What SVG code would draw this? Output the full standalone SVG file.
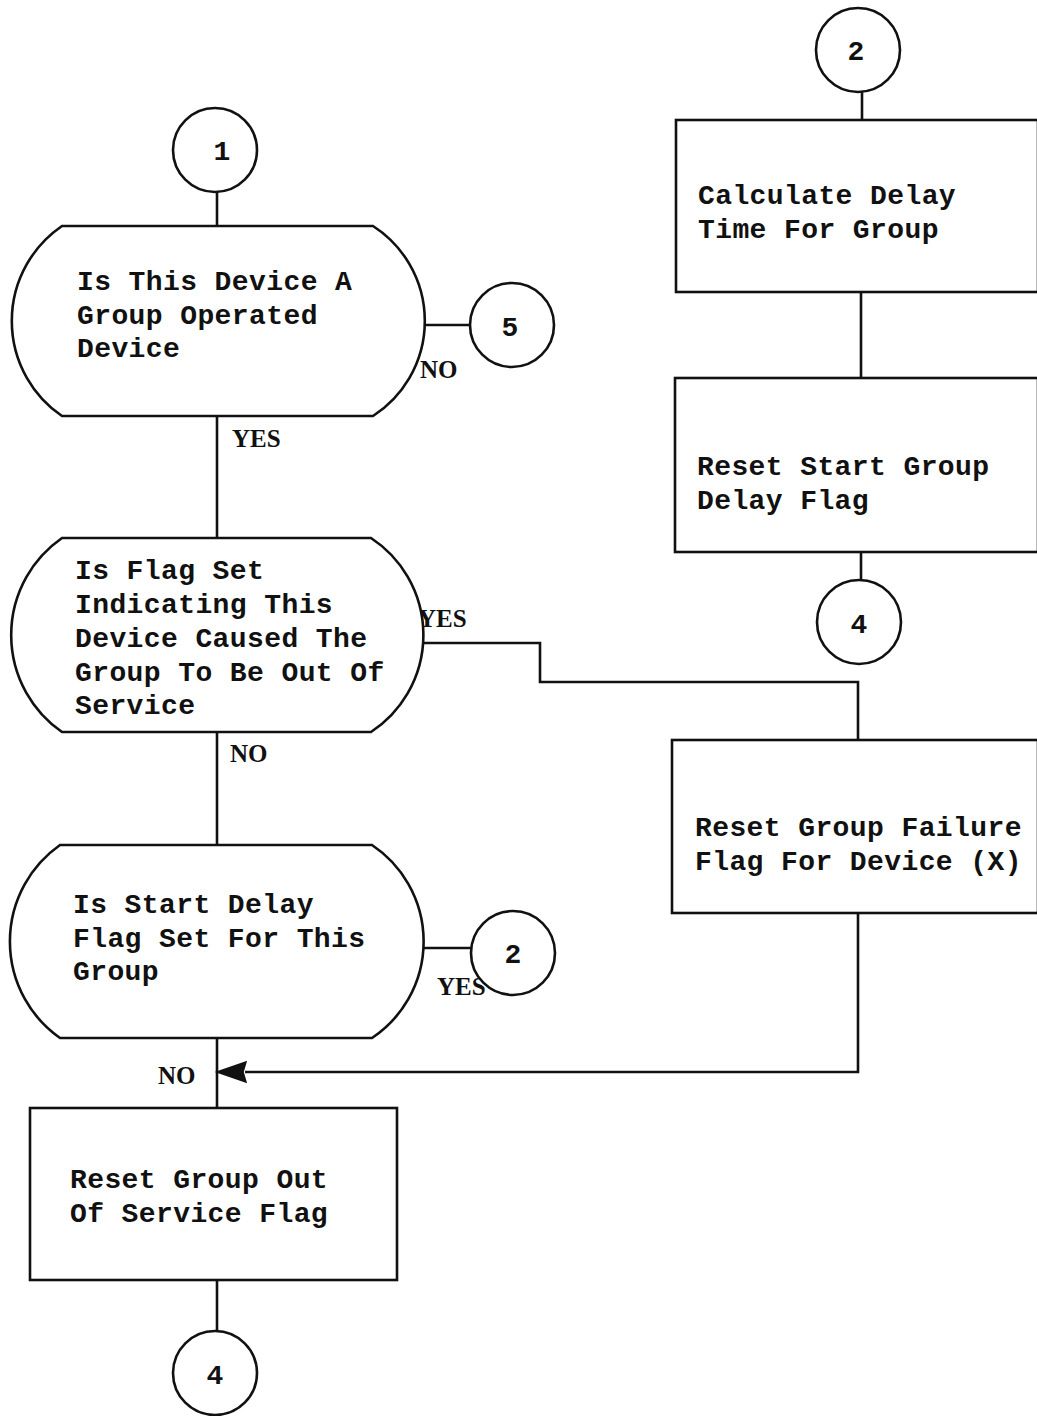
<svg xmlns="http://www.w3.org/2000/svg" width="1037" height="1416" viewBox="0 0 1037 1416">
<style>
.s{fill:none;stroke:#111;stroke-width:2.6}
.n{fill:#fff;stroke:#111;stroke-width:2.6}
.t{font-family:"Liberation Mono",monospace;font-weight:bold;font-size:28px;fill:#111;letter-spacing:0.4px}
.c{font-family:"Liberation Mono",monospace;font-weight:bold;font-size:28px;fill:#111;text-anchor:middle}
.l{font-family:"Liberation Serif",serif;font-weight:bold;font-size:25px;fill:#111}
</style>
<rect width="1037" height="1416" fill="#fff"/>
<g id="connectors">
<path class="s" d="M217,192 V226"/>
<path class="s" d="M425,325 H470"/>
<path class="s" d="M217,416 V538"/>
<path class="s" d="M421,643 H540 V682 H858 V740"/>
<path class="s" d="M217,732 V845"/>
<path class="s" d="M423,948 H472"/>
<path class="s" d="M217,1038 V1108"/>
<path class="s" d="M858,913 V1072 H245"/>
<path d="M217,1072 L246,1062 L243,1072 L246,1082 z" fill="#111" stroke="#111" stroke-width="1.5"/>
<path class="s" d="M217,1280 V1331"/>
<path class="s" d="M862,92 V120"/>
<path class="s" d="M861,292 V378"/>
<path class="s" d="M861,552 V580"/>
<text class="l" x="420" y="378">NO</text>
<text class="l" x="232" y="447">YES</text>
<text class="l" x="418" y="627">YES</text>
<text class="l" x="230" y="762">NO</text>
<text class="l" x="437" y="995">YES</text>
<text class="l" x="158" y="1084">NO</text>
</g>
<g id="c1"><circle class="n" cx="215" cy="150" r="42"/><text class="c" x="222" y="160">1</text></g>
<g id="d1">
<path class="n" d="M62,226 H373 A113,113 0 0 1 373,416 H62 A115,115 0 0 1 62,226 z"/>
<text class="t" x="77" y="290">Is This Device A</text>
<text class="t" x="77" y="324">Group Operated</text>
<text class="t" x="77" y="357">Device</text>
</g>
<g id="c5"><circle class="n" cx="512" cy="325" r="42"/><text class="c" x="510" y="336">5</text></g>
<g id="d2">
<path class="n" d="M62,538 H371 A116,116 0 0 1 371,732 H62 A118,118 0 0 1 62,538 z"/>
<text class="t" x="75" y="579">Is Flag Set</text>
<text class="t" x="75" y="613">Indicating This</text>
<text class="t" x="75" y="647">Device Caused The</text>
<text class="t" x="75" y="681">Group To Be Out Of</text>
<text class="t" x="75" y="714">Service</text>
</g>
<g id="d3">
<path class="n" d="M60,845 H372 A116,116 0 0 1 372,1038 H60 A118,118 0 0 1 60,845 z"/>
<text class="t" x="73" y="913">Is Start Delay</text>
<text class="t" x="73" y="947">Flag Set For This</text>
<text class="t" x="73" y="980">Group</text>
</g>
<g id="c2b"><circle class="n" cx="513" cy="953" r="42"/><text class="c" x="513" y="963">2</text></g>
<g id="b4">
<rect class="n" x="30" y="1108" width="367" height="172"/>
<text class="t" x="70" y="1188">Reset Group Out</text>
<text class="t" x="70" y="1222">Of Service Flag</text>
</g>
<g id="c4a"><circle class="n" cx="215" cy="1373" r="42"/><text class="c" x="215" y="1384">4</text></g>
<g id="c2a"><circle class="n" cx="858" cy="50" r="42"/><text class="c" x="856" y="60">2</text></g>
<g id="b1">
<rect class="n" x="676" y="120" width="362" height="172"/>
<text class="t" x="698" y="204">Calculate Delay</text>
<text class="t" x="698" y="238">Time For Group</text>
</g>
<g id="b2">
<rect class="n" x="675" y="378" width="363" height="174"/>
<text class="t" x="697" y="475">Reset Start Group</text>
<text class="t" x="697" y="509">Delay Flag</text>
</g>
<g id="c4b"><circle class="n" cx="859" cy="622" r="42"/><text class="c" x="859" y="633">4</text></g>
<g id="b3">
<rect class="n" x="672" y="740" width="366" height="173"/>
<text class="t" x="695" y="836">Reset Group Failure</text>
<text class="t" x="695" y="870">Flag For Device (X)</text>
</g>
</svg>
